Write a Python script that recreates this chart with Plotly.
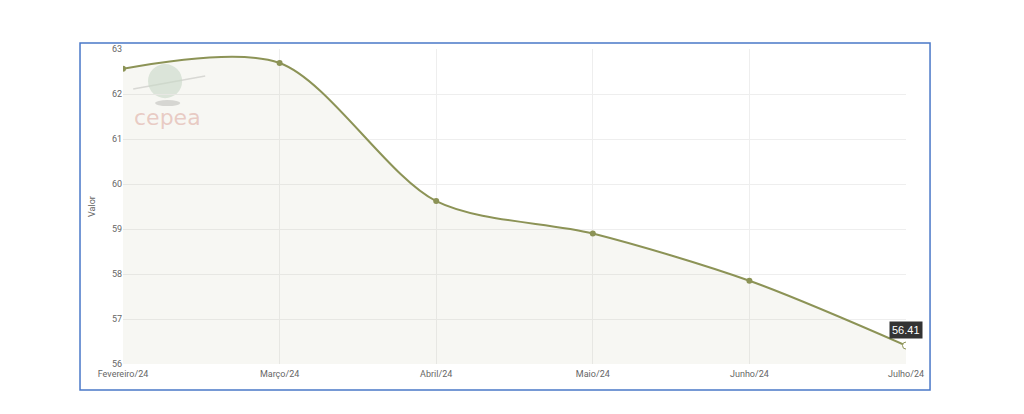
# Preço mensal - gráfico de linha suavizada (estilo CEPEA)
import plotly.graph_objects as go

# dados
meses = ['Fevereiro/24', 'Março/24', 'Abril/24', 'Maio/24', 'Junho/24', 'Julho/24']
valores = [62.56, 62.69, 59.62, 58.9, 57.85, 56.41]
y_ticks = [56, 57, 58, 59, 60, 61, 62, 63]

cor_linha = '#8c9356'
cinza = '#666666'

fig = go.Figure()

fig.add_trace(go.Scatter(
    x=meses,
    y=valores,
    mode='lines+markers',
    line=dict(color=cor_linha, width=2, shape='spline', smoothing=0.85),
    marker=dict(color=cor_linha, size=6),
    fill='tozeroy',
    fillcolor='rgba(140,147,86,0.07)',
    hoverinfo='x+y',
    showlegend=False,
))

# ponto destacado (último)
fig.add_trace(go.Scatter(
    x=[meses[-1]],
    y=[valores[-1]],
    mode='markers',
    marker=dict(color='white', size=7, line=dict(color=cor_linha, width=1)),
    showlegend=False,
    hoverinfo='skip',
))

# tooltip do último valor
fig.add_annotation(
    x=meses[-1], y=valores[-1],
    text='%.2f' % valores[-1],
    showarrow=False,
    yshift=16,
    font=dict(color='white', size=11, family='Arial, Liberation Sans'),
    bgcolor='#333333',
    borderpad=2,
)

# marca d'água do logo
fig.add_shape(type='line', xref='paper', yref='paper',
              x0=0.013, x1=0.105, y0=0.873, y1=0.914,
              line=dict(color='rgba(200,200,200,0.6)', width=1.5), layer='below')
fig.add_shape(type='circle', xref='paper', yref='paper',
              x0=0.032, x1=0.0755, y0=0.844, y1=0.952,
              fillcolor='rgba(205,222,208,0.6)', line=dict(width=0), layer='below')
fig.add_shape(type='circle', xref='paper', yref='paper',
              x0=0.041, x1=0.073, y0=0.819, y1=0.838,
              fillcolor='rgba(185,185,185,0.5)', line=dict(width=0), layer='below')
fig.add_annotation(
    xref='paper', yref='paper', x=0.057, y=0.781,
    xanchor='center', yanchor='middle',
    text='cepea', showarrow=False,
    font=dict(color='rgba(220,165,155,0.55)', size=22, family='DejaVu Sans'),
)

# moldura azul
fig.add_shape(type='rect', xref='paper', yref='paper',
              x0=-0.0549, x1=1.0307, y0=-0.0825, y1=1.019,
              line=dict(color='#4a78c8', width=1.5))

fig.update_layout(
    width=1024,
    height=414,
    margin=dict(l=115, r=126, t=41, b=58, autoexpand=False),
    paper_bgcolor='white',
    plot_bgcolor='white',
    font=dict(family='Roboto, Arial', size=9, color=cinza),
    xaxis=dict(
        showgrid=True, gridcolor='#eeeeee',
        zeroline=False, showline=False,
        ticks='', tickfont=dict(size=9, color=cinza),
        ticklabelstandoff=3,
        range=[0, 5], automargin=False,
    ),
    yaxis=dict(
        title=dict(text='Valor', font=dict(size=9, color=cinza), standoff=14),
        range=[56, 63],
        tickvals=y_ticks,
        showgrid=True, gridcolor='#eeeeee',
        zeroline=False, showline=False,
        tickfont=dict(size=9, color=cinza),
        automargin=False,
    ),
)

fig.write_html("out.html")
